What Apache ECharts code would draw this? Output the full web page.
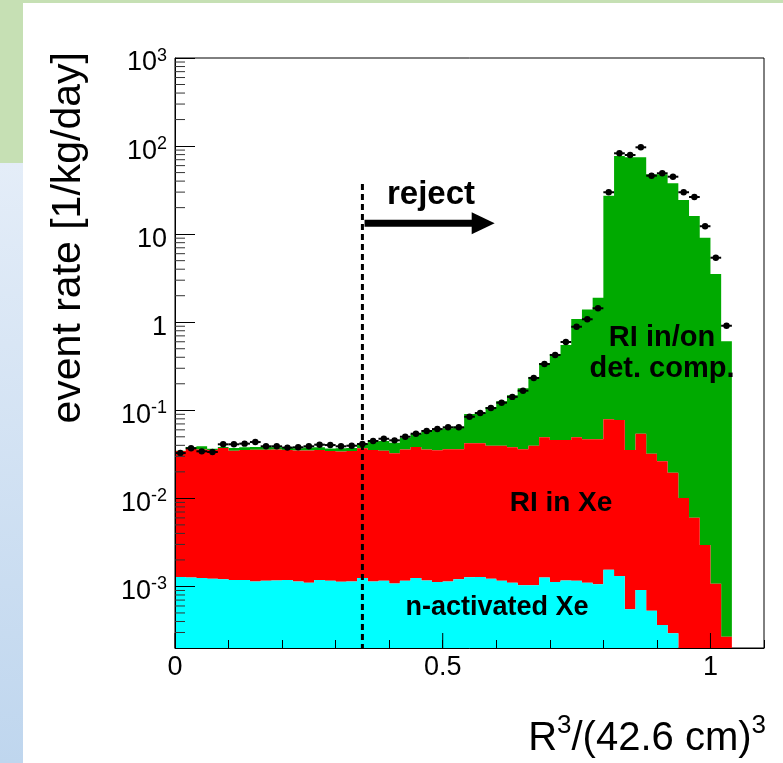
<!DOCTYPE html>
<html>
<head>
<meta charset="utf-8">
<title>Event rate vs. R^3</title>
<script src="https://cdn.jsdelivr.net/npm/echarts@6/dist/echarts.min.js"></script>
<style>
  html, body { margin: 0; padding: 0; background: #ffffff; }
  #chart { width: 783px; height: 763px; }
</style>
</head>
<body>
<div id="chart"></div>
<script>
// Binning along R^3/(42.6 cm)^3
const binWidth = 0.02;

// Stacked contributions per bin [1/kg/day], from the bottom of the stack upwards
const nActivatedXe = [
  0.00128, 0.00126, 0.00125, 0.00122, 0.00121, 0.00118, 0.00118, 0.00114, 0.00116, 0.00117,
  0.00118, 0.00114, 0.00110, 0.00118, 0.00116, 0.00113, 0.00114, 0.00125, 0.00114, 0.00116,
  0.00108, 0.00116, 0.00125, 0.00117, 0.00112, 0.00114, 0.00121, 0.00127, 0.00128, 0.00122,
  0.00116, 0.00110, 0.00103, 0.00103, 0.00126, 0.00112, 0.00117, 0.00116, 0.00110, 0.00106,
  0.00155, 0.00131, 0.00055, 0.00091, 0.00053, 0.000365, 0.000294, 0, 0, 0,
  0, 0
];
const riInXe = [
  0.0332, 0.0350, 0.0346, 0.0342, 0.0361, 0.0336, 0.0342, 0.0345, 0.0344, 0.0346,
  0.0342, 0.0339, 0.0339, 0.0342, 0.0333, 0.0329, 0.0334, 0.0358, 0.0343, 0.0336,
  0.0314, 0.0348, 0.0371, 0.0348, 0.0340, 0.0349, 0.0348, 0.0409, 0.0409, 0.0384,
  0.0384, 0.0369, 0.0350, 0.0385, 0.0482, 0.0449, 0.0448, 0.0482, 0.0457, 0.0457,
  0.0775, 0.0763, 0.0349, 0.0533, 0.0316, 0.0261, 0.0193, 0.0101, 0.00603, 0.00295,
  0.00107, 0.000269
];
const riDetComp = [
  0.0003, 0.0020, 0.0032, 0.0011, 0.0010, 0.0025, 0.0026, 0.0027, 0.0027, 0.0022,
  0.0024, 0.0020, 0.0028, 0.0026, 0.0023, 0.0030, 0.0027, 0.0050, 0.0086, 0.0100,
  0.0103, 0.0129, 0.0155, 0.0207, 0.0251, 0.0264, 0.0291, 0.0485, 0.0517, 0.0694,
  0.0874, 0.110, 0.142, 0.200, 0.295, 0.390, 0.505, 1.04, 1.35, 1.85,
  27.2, 77.0, 74.5, 74.4, 47.8, 47.8, 37.8, 24.4, 16.1, 9.11,
  3.53, 0.607
];

// Measured event rate per bin [1/kg/day]
const measured = [
  0.0327, 0.0370, 0.0342, 0.0336, 0.0411, 0.0411, 0.0418, 0.0436, 0.0390, 0.0390,
  0.0377, 0.0380, 0.0390, 0.0407, 0.0403, 0.0390, 0.0396, 0.0414, 0.0448, 0.0475,
  0.0456, 0.0501, 0.0542, 0.0582, 0.0612, 0.0641, 0.0641, 0.0845, 0.0931, 0.106,
  0.122, 0.142, 0.167, 0.233, 0.335, 0.425, 0.596, 0.889, 1.08, 1.44,
  29.9, 82.8, 79.2, 96.8, 46.1, 49.1, 44.9, 29.9, 26.4, 12.3,
  5.40, 0.912
];

// Axis ranges and tick labels
const xRange = [0, 1.1];
const yRange = [2e-4, 1e3];
const xTickLabels = [[0, '0'], [0.5, '0.5'], [1, '1']];
const yTickLabels = [
  [1e3, '10', '3'], [1e2, '10', '2'], [10, '10', ''], [1, '1', ''],
  [1e-1, '10', '-1'], [1e-2, '10', '-2'], [1e-3, '10', '-3']
];

// Fiducial cut: events beyond this radius are rejected
const rejectCut = 0.35;
const rejectLineTop = 37;
const rejectArrow = { from: 0.354, to: 0.597, level: 13.3 };

const FONT = '"Liberation Sans", Arial, Helvetica, sans-serif';
const yMin = yRange[0];

// Cumulative stack boundaries [x0, x1, lower, upper] for each component
const cyanRects = [], redRects = [], greenRects = [];
nActivatedXe.forEach(function (c, i) {
  const x0 = i * binWidth, x1 = (i + 1) * binWidth;
  const r = c + riInXe[i];
  const g = r + riDetComp[i];
  if (c > yMin) cyanRects.push([x0, x1, yMin, c]);
  if (r > yMin) redRects.push([x0, x1, Math.max(c, yMin), r]);
  if (g > yMin) greenRects.push([x0, x1, Math.max(r, yMin), g]);
});

const pointData = measured.map(function (v, i) { return [(i + 0.5) * binWidth, v]; });

// Minor ticks of the log axis at 2..9 x 10^n
const yMinorTicks = [];
for (let e = -4; e <= 2; e++) {
  for (let m = 2; m <= 9; m++) {
    const v = m * Math.pow(10, e);
    if (v > yMin * 1.001 && v < yRange[1]) yMinorTicks.push([0, v]);
  }
}
const xMajorTicks = xTickLabels.map(function (t) { return [t[0], yMin]; });

// Each stacked component is drawn as one stepped polygon (no seams between bins)
function histRenderer(color) {
  return function (params, api) {
    if (params.dataIndex !== 0) return null;
    const n = params.dataInsideLength;
    const upper = [], lower = [];
    for (let i = 0; i < n; i++) {
      const x0 = api.value(0, i), x1 = api.value(1, i);
      const lo = api.value(2, i), hi = api.value(3, i);
      upper.push(api.coord([x0, hi]), api.coord([x1, hi]));
      lower.push(api.coord([x0, lo]), api.coord([x1, lo]));
    }
    return {
      type: 'polygon',
      shape: { points: upper.concat(lower.reverse()) },
      style: { fill: color }
    };
  };
}

function histSeries(name, data, color) {
  return {
    name: name,
    type: 'custom',
    data: data,
    encode: { x: [0, 1], y: [2, 3] },
    renderItem: histRenderer(color),
    clip: true,
    silent: true,
    z: 2
  };
}

function yLabel(value) {
  for (let k = 0; k < yTickLabels.length; k++) {
    const t = yTickLabels[k];
    if (Math.abs(value - t[0]) <= t[0] * 1e-6) {
      return '{m|' + t[1] + '}' + (t[2] ? '{s|' + t[2] + '}' : '');
    }
  }
  return '';
}

function xLabel(value) {
  for (let k = 0; k < xTickLabels.length; k++) {
    if (Math.abs(value - xTickLabels[k][0]) < 1e-9) return xTickLabels[k][1];
  }
  return '';
}

const chart = echarts.init(document.getElementById('chart'), null, { renderer: 'canvas' });

chart.setOption({
  animation: false,
  backgroundColor: '#ffffff',
  grid: {
    left: 175, top: 58, width: 589, height: 590,
    show: true, borderColor: '#000000', borderWidth: 1, backgroundColor: 'transparent'
  },
  xAxis: {
    type: 'value',
    min: xRange[0], max: xRange[1], interval: 0.1,
    z: 10,
    axisLine: { show: true, lineStyle: { color: '#000000', width: 1 } },
    axisTick: { show: true, inside: true, length: 8, lineStyle: { color: '#000000', width: 1 } },
    splitLine: { show: false },
    axisLabel: {
      formatter: xLabel, color: '#000000', fontFamily: FONT, fontSize: 27, margin: 6
    }
  },
  yAxis: {
    type: 'log', logBase: 10,
    min: yRange[0], max: yRange[1],
    z: 10,
    axisLine: { show: true, lineStyle: { color: '#000000', width: 1 } },
    axisTick: { show: true, inside: true, length: 20, lineStyle: { color: '#000000', width: 1 } },
    splitLine: { show: false },
    axisLabel: {
      formatter: yLabel, margin: 8, padding: [10, 0, 0, 0],
      rich: {
        m: { fontFamily: FONT, fontSize: 27, color: '#000000', lineHeight: 32 },
        s: { fontFamily: FONT, fontSize: 18, color: '#000000', verticalAlign: 'top', lineHeight: 18 }
      }
    }
  },
  series: [
    histSeries('RI in/on det. comp.', greenRects, '#00aa00'),
    histSeries('RI in Xe', redRects, '#ff0000'),
    histSeries('n-activated Xe', cyanRects, '#00ffff'),
    {
      name: 'data',
      type: 'custom',
      data: pointData,
      encode: { x: 0, y: 1 },
      clip: true,
      silent: true,
      z: 5,
      renderItem: function (params, api) {
        const xc = api.value(0), v = api.value(1);
        const pL = api.coord([xc - binWidth / 2, v]);
        const pR = api.coord([xc + binWidth / 2, v]);
        const pC = api.coord([xc, v]);
        return {
          type: 'group',
          children: [
            { type: 'line', shape: { x1: pL[0], y1: pL[1], x2: pR[0], y2: pR[1] },
              style: { stroke: '#000000', lineWidth: 2 } },
            { type: 'circle', shape: { cx: pC[0], cy: pC[1], r: 3.2 }, style: { fill: '#000000' } }
          ]
        };
      }
    },
    {
      name: 'reject cut',
      type: 'custom',
      data: [[rejectCut, rejectLineTop]],
      encode: { x: 0, y: 1 },
      silent: true,
      z: 6,
      renderItem: function (params, api) {
        const top = api.coord([rejectCut, rejectLineTop]);
        const bot = api.coord([rejectCut, yMin]);
        const a0 = api.coord([rejectArrow.from, rejectArrow.level]);
        const a1 = api.coord([rejectArrow.to, rejectArrow.level]);
        return {
          type: 'group',
          children: [
            { type: 'line', shape: { x1: top[0], y1: top[1], x2: bot[0], y2: bot[1] },
              style: { stroke: '#000000', lineWidth: 3, lineDash: [6, 4] } },
            { type: 'line', shape: { x1: a0[0], y1: a0[1], x2: a1[0] - 20, y2: a1[1] },
              style: { stroke: '#000000', lineWidth: 7 } },
            { type: 'polygon',
              shape: { points: [[a1[0] - 23, a1[1] - 11], [a1[0], a1[1]], [a1[0] - 23, a1[1] + 11]] },
              style: { fill: '#000000' } }
          ]
        };
      }
    },
    {
      name: 'y minor ticks',
      type: 'custom',
      data: yMinorTicks,
      encode: { x: 0, y: 1 },
      silent: true,
      z: 12,
      renderItem: function (params, api) {
        const p = api.coord([xRange[0], api.value(1)]);
        return { type: 'line', shape: { x1: p[0], y1: p[1], x2: p[0] + 10, y2: p[1] },
          style: { stroke: '#333333', lineWidth: 1 } };
      }
    },
    {
      name: 'x major ticks',
      type: 'custom',
      data: xMajorTicks,
      encode: { x: 0, y: 1 },
      silent: true,
      z: 12,
      renderItem: function (params, api) {
        const p = api.coord([api.value(0), yMin]);
        return { type: 'line', shape: { x1: p[0], y1: p[1], x2: p[0], y2: p[1] - 15 },
          style: { stroke: '#000000', lineWidth: 1 } };
      }
    }
  ],
  graphic: [
    // slide decoration around the figure
    { type: 'rect', left: 0, top: 0, shape: { width: 783, height: 3 }, style: { fill: '#c6e0b4' }, z: -1 },
    { type: 'rect', left: 0, top: 0, shape: { width: 23, height: 163 }, style: { fill: '#c6e0b4' }, z: -1 },
    { type: 'rect', left: 0, top: 163, shape: { width: 23, height: 600 }, z: -1,
      style: { fill: { type: 'linear', x: 0, y: 0, x2: 0, y2: 1,
        colorStops: [{ offset: 0, color: '#e4edf8' }, { offset: 1, color: '#bfd6ee' }] } } },
    // axis titles
    { type: 'text', x: 69, y: 52, rotation: Math.PI / 2, z: 20,
      style: { text: 'event rate [1/kg/day]', font: '41px ' + FONT, fill: '#000000',
        align: 'right', verticalAlign: 'middle' } },
    { type: 'text', x: 766, y: 739, z: 20,
      style: { text: '{a|R}{s|3}{a|/(42.6 cm)}{s|3}', align: 'right', verticalAlign: 'middle', fill: '#000000',
        rich: {
          a: { font: '40px ' + FONT, fill: '#000000', lineHeight: 52 },
          s: { font: '26px ' + FONT, fill: '#000000', verticalAlign: 'top', lineHeight: 26 }
        } } },
    // annotations
    { type: 'text', x: 431, y: 195, z: 20,
      style: { text: 'reject', font: 'bold 33px ' + FONT, fill: '#000000', align: 'center', verticalAlign: 'middle' } },
    { type: 'text', x: 662, y: 353, z: 20,
      style: { text: 'RI in/on\ndet. comp.', font: 'bold 29px ' + FONT, fill: '#000000',
        align: 'center', verticalAlign: 'middle', lineHeight: 31 } },
    { type: 'text', x: 561, y: 503, z: 20,
      style: { text: 'RI in Xe', font: 'bold 28px ' + FONT, fill: '#000000', align: 'center', verticalAlign: 'middle' } },
    { type: 'text', x: 497, y: 608, z: 20,
      style: { text: 'n-activated Xe', font: 'bold 27px ' + FONT, fill: '#000000', align: 'center', verticalAlign: 'middle' } }
  ]
});
</script>
</body>
</html>
